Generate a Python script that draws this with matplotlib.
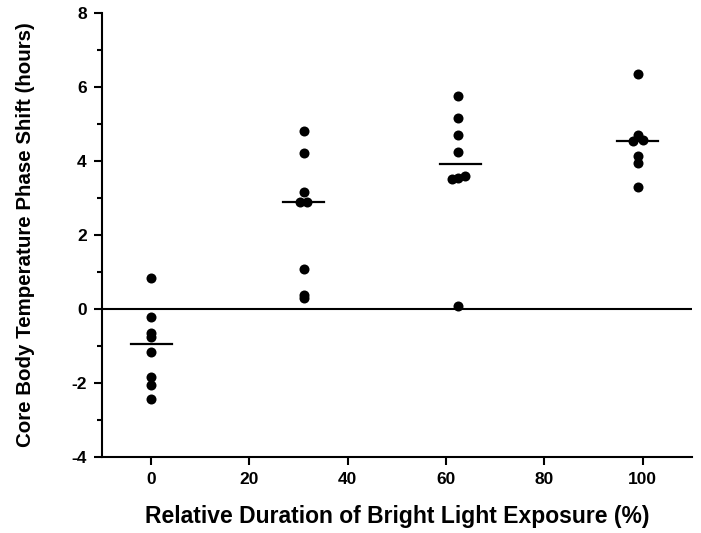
import matplotlib
matplotlib.use("Agg")
import matplotlib.pyplot as plt
import numpy as np
from matplotlib.ticker import MultipleLocator

plt.rcParams['font.family'] = ['Liberation Sans', 'DejaVu Sans']
plt.rcParams['axes.unicode_minus'] = False

# Data (relative duration %, phase shift hours)
group_x = [0, 31, 63, 99]
g0_x = [0, 0, 0, 0, 0, 0, 0, 0]
g0_y = [0.85, -0.21, -0.64, -0.76, -1.15, -1.85, -2.05, -2.43]
g1_x = [31, 31, 31, 30.3, 31.7, 31, 31, 31]
g1_y = [4.81, 4.21, 3.17, 2.88, 2.90, 1.07, 0.38, 0.29]
g2_x = [62.5, 62.5, 62.5, 62.5, 61.3, 62.5, 63.8, 62.5]
g2_y = [5.76, 5.15, 4.70, 4.25, 3.52, 3.55, 3.60, 0.09]
g3_x = [99, 99, 98, 100, 99, 99, 99]
g3_y = [6.34, 4.70, 4.55, 4.58, 4.14, 3.95, 3.31]

groups_x = [g0_x, g1_x, g2_x, g3_x]
groups_y = [g0_y, g1_y, g2_y, g3_y]

xticks = [0, 20, 40, 60, 80, 100]
yticks = [-4, -2, 0, 2, 4, 6, 8]

fig = plt.figure(figsize=(7.01, 5.33), dpi=100)
ax = fig.add_axes([0.1455, 0.1426, 0.987 - 0.1455, 0.9756 - 0.1426])

for gx, xs, ys in zip(group_x, groups_x, groups_y):
    ax.scatter(xs, ys, s=52, color='black', zorder=3, linewidths=0)
    med = np.median(ys)
    ax.plot([gx - 4.2, gx + 4.2], [med, med], color='black', lw=1.6, zorder=2)

ax.axhline(0, color='black', lw=1.5, zorder=1)

ax.set_xlim(-10, 110)
ax.set_ylim(-4, 8)
ax.set_xticks(xticks)
ax.set_yticks(yticks)
ax.yaxis.set_minor_locator(MultipleLocator(1))

for s in ['top', 'right']:
    ax.spines[s].set_visible(False)
for s in ['left', 'bottom']:
    ax.spines[s].set_linewidth(1.5)

ax.tick_params(axis='both', which='major', length=6, width=1.5, direction='out',
               labelsize=12.5, pad=5)
ax.tick_params(axis='y', which='minor', length=3.5, width=1.5, direction='out')
for lab in ax.get_xticklabels() + ax.get_yticklabels():
    lab.set_fontweight('bold')

ax.set_xlabel('Relative Duration of Bright Light Exposure (%)', fontsize=16.5,
              fontweight='bold', labelpad=13)
ax.set_ylabel('Core Body Temperature Phase Shift (hours)', fontsize=14.8,
              fontweight='bold', labelpad=26)

fig.savefig('out.png', dpi=100)
